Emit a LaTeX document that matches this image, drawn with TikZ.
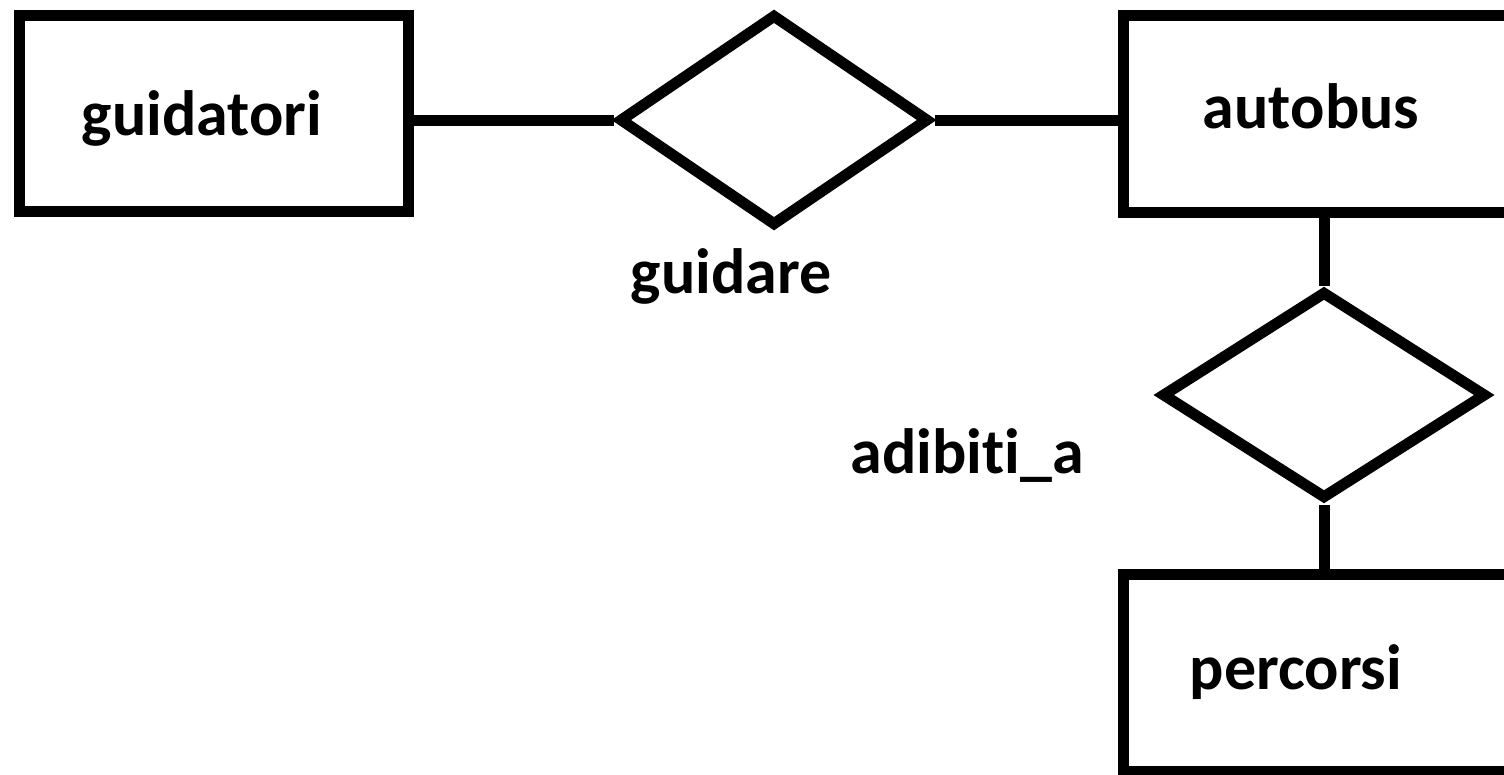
\documentclass[tikz,border=0pt]{standalone}
\usepackage{fontspec}
\setmainfont{Carlito}[Ligatures={NoCommon}]
\usetikzlibrary{shapes.geometric}
\begin{document}
\begin{tikzpicture}[x=1pt,y=-1pt,
  ent/.style={draw=black,line width=11pt,rectangle,inner sep=0pt,minimum width=#1,minimum height=196pt},
  rel/.style={draw=black,line width=11pt,diamond,inner sep=0pt},
  lbl/.style={inner sep=0pt,anchor=base,font=\bfseries\fontsize{64}{76}\selectfont},
  link/.style={line width=11pt}]
\useasboundingbox (0,0) rectangle (1504,774);
\clip (0,0) rectangle (1504,774);
\fill[white] (0,0) rectangle (1504,774);
% entities
\node[ent=389pt] (guidatori) at (213.5,113) {};
\node[ent=404pt,minimum height=197pt] (autobus) at (1325,113.5) {};
\node[ent=404pt,minimum height=197pt] (percorsi) at (1325,672.5) {};
% relationships
\node[rel,minimum width=310pt,minimum height=212pt] (d1) at (774,120) {};
\node[rel,minimum width=325pt,minimum height=208pt] (d2) at (1324,395) {};
% texts
\node[lbl] (tguidatori) at (202,135) {guidatori};
\node[lbl] (tautobus) at (1311,128) {autobus};
\node[lbl] (tpercorsi) at (1296,689) {percorsi};
\node[lbl] (tguidare) at (731,293) {guidare};
\node[lbl] (tadibiti) at (967,473) {adibiti\_a};
% connectors
\draw[link] (guidatori.east |- d1.west) -- (d1.west);
\draw[link] (d1.east) -- (d1.east -| autobus.west);
\draw[link] (d2.north) -- (d2.north |- autobus.south);
\draw[link] (d2.south) -- (d2.south |- percorsi.north);
\end{tikzpicture}
\end{document}
